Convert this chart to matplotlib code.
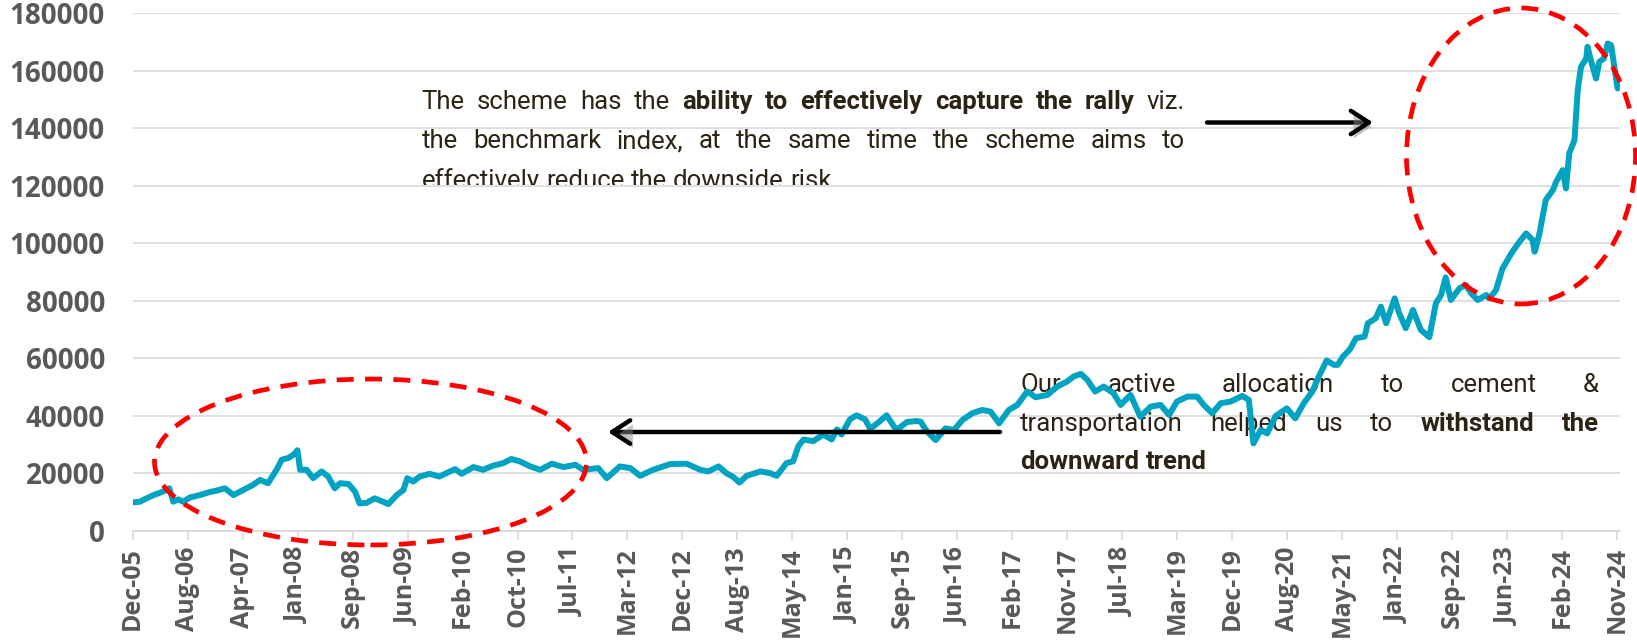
import numpy as np
import matplotlib
matplotlib.use("Agg")
import matplotlib.pyplot as plt
from matplotlib import font_manager, patheffects
from matplotlib.font_manager import FontProperties
from matplotlib.patches import Ellipse
from matplotlib.transforms import IdentityTransform, Bbox

# canvas size in pixels (dpi 100)
W, H = 1637, 644

# x axis labels (Excel category axis, one label every ~8.4 months)
tick_labels = ["Dec-05", "Aug-06", "Apr-07", "Jan-08", "Sep-08", "Jun-09", "Feb-10",
               "Oct-10", "Jul-11", "Mar-12", "Dec-12", "Aug-13", "May-14", "Jan-15",
               "Sep-15", "Jun-16", "Feb-17", "Nov-17", "Jul-18", "Mar-19", "Dec-19",
               "Aug-20", "May-21", "Jan-22", "Sep-22", "Jun-23", "Feb-24", "Nov-24"]

# months since Dec-05
month_idx = [0, 1.1, 2.1, 3.2, 4.2, 5.2, 5.6, 6.2, 7.0, 7.7, 8.8, 10.3, 11.8, 12.8, 14.1,
             15.4, 16.9, 18.4, 19.5, 20.7, 22.0, 22.8, 23.8, 24.6, 25.2, 25.6, 26.6, 27.6,
             28.9, 29.9, 30.9, 31.7, 33.0, 34.0, 34.7, 35.8, 37.0, 38.3, 39.1, 40.4, 41.4,
             42.0, 42.9, 43.9, 45.4, 46.9, 48.2, 49.3, 50.3, 52.1, 53.6, 55.1, 56.7, 57.9,
             59.2, 60.8, 62.3, 64.1, 65.9, 67.7, 68.9, 71.2, 72.5, 74.5, 76.1, 77.6, 79.6,
             82.2, 84.7, 86.8, 88.0, 89.6, 90.8, 91.9, 92.8, 93.9, 96.0, 97.5, 98.5, 100.0,
             101.0, 101.8, 102.6, 104.1, 105.6, 106.9, 107.7, 108.4, 109.7, 110.7, 112.0,
             112.8, 114.0, 115.3, 116.8, 118.4, 119.9, 120.5, 121.5, 122.8, 124.3, 125.6,
             126.9, 128.4, 129.9, 131.2, 132.5, 134.0, 135.3, 136.8, 138.1, 139.9, 141.4,
             142.9, 143.9, 145.0, 146.0, 147.2, 148.5, 150.0, 151.1, 152.6, 154.1, 155.7,
             157.2, 158.5, 159.7, 161.3, 162.8, 163.8, 165.1, 166.4, 167.9, 169.7, 170.7,
             171.4, 172.5, 173.5, 174.8, 176.5, 177.8, 179.1, 180.4, 181.4, 182.6, 183.7,
             184.3, 185.1, 186.1, 187.1, 188.4, 188.9, 190.1, 190.9, 191.7, 193.0, 193.7,
             194.7, 195.8, 197.0, 198.3, 199.3, 200.1, 200.8, 201.6, 202.9, 203.9, 204.7,
             205.7, 207.0, 207.5, 208.5, 209.5, 211.0, 212.1, 213.1, 214.1, 214.4, 215.1,
             216.1, 217.2, 217.7, 218.7, 219.2, 219.7, 220.5, 221.0, 221.5, 222.3, 222.5,
             223.0, 223.8, 224.3, 225.0, 225.6, 226.1, 226.6, 227.1, 227.3]

nav = [9950, 10180, 11350, 12500, 13340, 14270, 14860, 10180, 11000, 10180, 11700, 12500,
       13570, 14040, 14860, 12500, 14270, 16030, 17780, 16610, 21290, 24800, 25390, 26560,
       28080, 21290, 21290, 18370, 20710, 18950, 14860, 16610, 16380, 13690, 9600, 9830,
       11350, 10180, 9360, 12520, 14270, 18370, 17200, 18950, 19890, 18950, 20360, 21530,
       19890, 22230, 21290, 22700, 23630, 25040, 24220, 22460, 21290, 23400, 22230, 23050,
       21290, 21880, 18370, 22460, 21880, 19190, 21290, 23280, 23400, 21290, 20710, 22460,
       20120, 18720, 16850, 19190, 20710, 20120, 19190, 23630, 24220, 29480, 31820, 31240,
       33580, 31820, 35330, 33580, 38840, 40250, 38840, 35560, 37670, 40250, 35100, 37900,
       38260, 38030, 34540, 31630, 35700, 35120, 38610, 40940, 42100, 41520, 37450, 42100,
       43850, 48500, 46520, 47330, 50240, 51990, 53730, 54660, 52570, 48500, 50240, 47920,
       43850, 47330, 39770, 43260, 43850, 40360, 45010, 46750, 46750, 43850, 40940, 44430,
       45010, 46990, 45590, 30470, 35120, 33960, 40010, 42680, 39190, 44430, 48500, 53730,
       59310, 57800, 57800, 60700, 63000, 67050, 67630, 72260, 73990, 78040, 72260, 80930,
       75730, 70530, 76880, 69940, 67400, 79190, 82080, 88210, 80350, 84400, 85550, 82660,
       80350, 82080, 80910, 83800, 91340, 97130, 100610, 103510, 101190, 97130, 102930,
       115100, 118570, 121470, 125530, 119150, 131320, 135960, 153340, 161460, 164350,
       168410, 163770, 157400, 163190, 164350, 169570, 168990, 161460, 153920, 156000]

y_ticks = list(range(0, 180001, 20000))

note_top = ["The scheme has the **ability to effectively capture the rally** viz.",
            "the benchmark index, at the same time the scheme aims to",
            "effectively reduce the downside risk."]
note_bottom = ["Our active allocation to cement &",
               "transportation helped us to **withstand the**",
               "**downward trend**"]

LINE_COLOR = "#00A3C1"
GRID_COLOR = "#D9D9D9"
LABEL_COLOR = "#595959"
NOTE_COLOR = "#2B2313"

fonts = font_manager.fontManager.ttflist


def has_bold(fam):
    for f in fonts:
        if f.name == fam and str(f.weight) in ("700", "bold", "600", "semibold", "demibold"):
            return True
    return False


def pick_tick_font():
    for fam in ["Noto Sans", "Open Sans", "Lato", "Roboto"]:
        if has_bold(fam):
            return fam
    return "DejaVu Sans"


TICK_FONT = pick_tick_font()
NOTE_FONT = "Roboto"
plt.rcParams["font.family"] = [TICK_FONT, "DejaVu Sans"]


def split_bold(line):
    words = []
    for k, part in enumerate(line.split("**")):
        for w in part.split():
            words.append((w, k % 2 == 1))
    return words


def text_width(renderer, s, size, bold):
    prop = FontProperties(family=NOTE_FONT, size=size, weight="bold" if bold else "normal")
    w, _, _ = renderer.get_text_width_height_descent(s, prop, ismath=False)
    return w


def space_width(renderer, size):
    return text_width(renderer, "a a", size, False) - text_width(renderer, "aa", size, False)


def fit_size(renderer, blocks, size):
    # shrink until every justified line keeps at least a normal word gap
    while size > 10:
        ok = True
        space = space_width(renderer, size)
        for lines, left, right in blocks:
            for line in lines[:-1]:
                words = split_bold(line)
                need = sum(text_width(renderer, w, size, b) for w, b in words)
                need += space * (len(words) - 1)
                if need > right - left:
                    ok = False
        if ok:
            return size
        size -= 0.25
    return size


def draw_note(ax, renderer, lines, left, right, baselines, size, clip_y=None):
    # justified block like the text box in the original, last line left aligned
    space = space_width(renderer, size)
    for i, (line, base) in enumerate(zip(lines, baselines)):
        words = split_bold(line)
        widths = [text_width(renderer, w, size, b) for w, b in words]
        if i == len(lines) - 1:
            gap = space
        else:
            gap = (right - left - sum(widths)) / (len(words) - 1)
        x = left
        for (w, b), wd in zip(words, widths):
            t = ax.text(x, H - base, w, transform=IdentityTransform(), fontsize=size,
                        family=NOTE_FONT, fontweight="bold" if b else "normal",
                        color=NOTE_COLOR, ha="left", va="baseline", zorder=1.5,
                        clip_on=False)
            if clip_y is not None:
                t.set_clip_on(True)
                t.set_clip_box(Bbox.from_extents(0, H - clip_y, W, H))
            x += wd + gap


fig = plt.figure(figsize=(W / 100, H / 100), dpi=100)
ax = fig.add_axes([0.08106, 0.17547, 0.9087, 0.80357])

ax.plot(month_idx, nav, color=LINE_COLOR, lw=4.3, solid_joinstyle="round",
        solid_capstyle="round", zorder=2)

ax.set_xlim(0, 227.5)
ax.set_ylim(0, 180000)
ax.set_yticks(y_ticks)
ax.set_yticklabels([str(v) for v in y_ticks], fontweight="bold", family=TICK_FONT)
ax.set_xticks(np.linspace(0, 227, len(tick_labels)))
ax.set_xticklabels(tick_labels, rotation=90, fontweight="bold", family=TICK_FONT)

ax.set_axisbelow(True)
ax.grid(axis="y", color=GRID_COLOR, lw=1.2)
for side in ["top", "right", "left"]:
    ax.spines[side].set_visible(False)
ax.spines["bottom"].set_color(GRID_COLOR)
ax.spines["bottom"].set_linewidth(1.2)

ax.tick_params(axis="y", length=0, pad=20, labelsize=20, labelcolor=LABEL_COLOR)
ax.tick_params(axis="x", length=6.5, width=1.2, color=GRID_COLOR, pad=5,
               labelsize=18, labelcolor=LABEL_COLOR)

# red dashed circles
for cx, cy, ew, eh in [(370.5, 462, 432, 166), (1521, 156, 229, 296)]:
    ax.add_patch(Ellipse((cx, H - cy), ew, eh, transform=IdentityTransform(),
                         fill=False, ec="#FF0000", lw=3.4, ls=(0, (3.6, 2.4)),
                         clip_on=False, zorder=3))

# arrows with a soft shadow
shadow = [patheffects.withSimplePatchShadow(offset=(2, -3), shadow_rgbFace="#888888", alpha=0.5)]
for x0, x1, y in [(1207, 1373, 122.5), (1000, 608, 432)]:
    ax.annotate("", xy=(x1, H - y), xytext=(x0, H - y),
                xycoords=IdentityTransform(), textcoords=IdentityTransform(),
                arrowprops=dict(arrowstyle="->,head_length=0.65,head_width=0.42",
                                color="black", lw=3.2, mutation_scale=20,
                                shrinkA=0, shrinkB=0, path_effects=shadow),
                annotation_clip=False, zorder=4)

fig.canvas.draw()
renderer = fig.canvas.get_renderer()
note_size = fit_size(renderer, [(note_top, 421.5, 1185), (note_bottom, 1020, 1599)], 18.5)
draw_note(ax, renderer, note_top, 421.5, 1185, [109, 148, 188], note_size, clip_y=185)
draw_note(ax, renderer, note_bottom, 1020, 1599, [392, 431, 469], note_size)

fig.savefig("out.png", dpi=100)
